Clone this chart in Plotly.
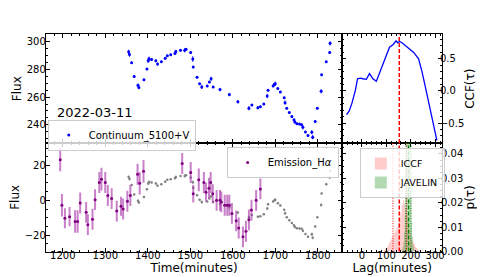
import plotly.graph_objects as go

# ---------------- data ----------------
cont_t = [1355, 1357, 1362, 1368, 1377, 1379, 1391, 1398, 1401, 1403, 1409, 1419, 1423, 1432,
          1441, 1446, 1454, 1464, 1466, 1477, 1487, 1490, 1501, 1506, 1507, 1516, 1522, 1527,
          1540, 1545, 1549, 1554, 1570, 1592, 1612, 1638, 1645, 1659, 1665, 1673, 1681, 1683,
          1695, 1698, 1700, 1706, 1712, 1721, 1723, 1727, 1733, 1739, 1744, 1746, 1751, 1757,
          1762, 1765, 1771, 1777, 1786, 1788, 1794, 1799, 1808, 1809, 1820, 1828, 1829]
cont_f = [292.5, 290.5, 284.7, 274.8, 268.5, 266.8, 272.4, 280.2, 286.0, 287.6, 287.0, 286.0,
          283.7, 285.4, 287.8, 289.7, 290.4, 291.3, 292.7, 293.6, 293.6, 294.3, 292.0, 287.3,
          281.6, 274.3, 269.6, 267.3, 268.0, 270.8, 273.1, 267.3, 265.4, 261.8, 256.7, 252.0,
          254.3, 252.4, 253.1, 255.0, 260.7, 264.9, 268.0, 269.2, 269.6, 266.1, 263.7, 259.5,
          256.0, 252.0, 248.9, 246.1, 243.7, 242.1, 240.9, 240.6, 240.2, 238.3, 235.0, 232.4,
          234.8, 231.2, 242.5, 252.0, 264.2, 276.0, 285.4, 292.0, 298.6]
cont_e = [1.5, 1.5, 0.8, 0.8, 1.2, 1.2, 0.8, 0.8, 1.5, 1.5, 0.8, 1.0, 1.0, 0.8, 1.0, 0.8, 0.8,
          0.8, 1.2, 0.8, 1.5, 0.8, 0.8, 2.0, 0.8, 0.8, 0.8, 1.5, 0.8, 0.8, 1.5, 0.8, 1.2, 1.2,
          1.2, 1.5, 0.8, 1.2, 0.8, 0.8, 1.5, 0.8, 0.8, 0.8, 1.5, 0.8, 0.8, 0.8, 1.5, 0.8, 0.8,
          0.8, 0.8, 1.2, 0.8, 0.8, 0.8, 1.5, 0.8, 0.8, 1.5, 1.5, 0.8, 0.8, 1.5, 0.8, 0.8, 0.8, 1.5]
# continuum rescaled onto the H-alpha flux scale (grey points)
cont_scaled = [13.4, 12.3, 8.9, 3.3, -0.3, -1.3, 1.9, 6.4, 9.7, 10.6, 10.3, 9.7, 8.4, 9.3,
               10.7, 11.8, 12.2, 12.7, 13.5, 14.0, 14.0, 14.4, 13.1, 10.4, 7.2, 3.0, 0.3, -1.0,
               -0.6, 1.0, 2.3, -1.0, -2.1, -4.1, -7.0, -9.7, -8.4, -9.5, -9.1, -8.0, -4.7, -2.3,
               -0.6, 0.1, 0.3, -1.7, -3.0, -5.4, -7.4, -9.7, -11.5, -13.1, -14.4, -15.3, -16.0,
               -16.2, -16.4, -17.5, -19.4, -20.9, -19.5, -21.5, -15.1, -9.7, -2.7, 4.0, 9.3,
               13.1, 16.9]
cont_scaled_e = [0.9, 0.9, 0.5, 0.5, 0.7, 0.7, 0.5, 0.5, 0.9, 0.9, 0.5, 0.6, 0.6, 0.5, 0.6,
                 0.5, 0.5, 0.5, 0.7, 0.5, 0.9, 0.5, 0.5, 1.1, 0.5, 0.5, 0.5, 0.9, 0.5, 0.5, 0.9,
                 0.5, 0.7, 0.7, 0.7, 0.9, 0.5, 0.7, 0.5, 0.5, 0.9, 0.5, 0.5, 0.5, 0.9, 0.5, 0.5,
                 0.5, 0.9, 0.5, 0.5, 0.5, 0.5, 0.7, 0.5, 0.5, 0.5, 0.9, 0.5, 0.5, 0.9, 0.9, 0.5,
                 0.5, 0.9, 0.5, 0.5, 0.5, 0.9]

ha_t = [1194, 1198, 1205, 1216, 1229, 1235, 1241, 1255, 1259, 1270, 1276, 1286, 1291, 1300,
        1306, 1315, 1327, 1337, 1342, 1352, 1359, 1376, 1381, 1390, 1481, 1501, 1507, 1520,
        1532, 1537, 1544, 1548, 1553, 1562, 1570, 1573, 1581, 1587, 1592, 1598, 1608, 1614,
        1624, 1631, 1638, 1644, 1655, 1665]
ha_f = [23.4, -2.8, -10.3, -9.4, -12.2, -12.2, -1.5, -6.9, -14.0, -10.9, 0.4, 10.3, 12.2, 10.3,
        2.8, 1.0, -6.2, -3.4, -5.0, -0.5, 2.8, 15.0, 9.8, 16.7, 21.2, 16.0, 3.8, 11.8, 10.3,
        4.7, 7.0, 10.3, 3.8, 0.0, 0.0, -0.9, -2.8, -2.8, -2.8, -7.5, -11.8, -15.9, -21.0,
        -17.8, -11.2, -5.6, 0.0, 6.6]
ha_e = [6.7, 6.5, 5.8, 5.5, 6.5, 6.5, 6.0, 6.0, 6.0, 6.0, 6.0, 6.0, 6.5, 6.0, 6.0, 6.0, 6.0,
        5.5, 6.0, 6.0, 6.0, 6.0, 6.5, 6.5, 6.0, 6.0, 5.0, 6.5, 6.0, 5.5, 6.0, 6.0, 5.5, 6.0,
        6.0, 6.0, 6.0, 6.0, 6.0, 6.0, 6.0, 6.0, 6.0, 6.0, 6.0, 6.0, 6.0, 6.0]

ccf_lag = [-63, -61, -52, -41, -27, -18, -7, 4, 18, 31, 45, 59, 75, 95, 113, 127, 136, 140, 146,
           154, 164, 177, 191, 212, 232, 246, 264, 280, 294, 307]
ccf_val = [-0.37, -0.355, -0.31, -0.19, 0.01, 0.19, 0.20, 0.19, 0.18, 0.27, 0.19, 0.15, 0.30,
           0.50, 0.68, 0.72, 0.77, 0.78, 0.75, 0.77, 0.75, 0.71, 0.67, 0.60, 0.50, 0.30, -0.01,
           -0.29, -0.55, -0.77]

iccf_bins = [90, 95, 100, 105, 110, 115, 120, 125, 130, 135, 140, 145, 150, 155, 160, 165, 170,
             175, 180, 185, 190, 195, 200, 205, 210, 215, 220, 225, 230, 235, 240, 245, 250]
iccf_p = [0.0005, 0.001, 0.0015, 0.002, 0.003, 0.004, 0.005, 0.006, 0.007, 0.008, 0.009, 0.010,
          0.012, 0.014, 0.016, 0.019, 0.021, 0.020, 0.018, 0.015, 0.012, 0.009, 0.007, 0.005,
          0.004, 0.003, 0.002, 0.0015, 0.001, 0.0007, 0.0005, 0.0003, 0.0002]
jav_bins = [165, 168, 171, 174, 177, 180, 183, 186, 189, 192, 195, 198, 201, 204, 207, 210, 213, 216]
jav_p = [0.001, 0.002, 0.004, 0.008, 0.015, 0.035, 0.06, 0.08, 0.09, 0.085, 0.07, 0.05, 0.03,
         0.012, 0.006, 0.003, 0.002, 0.001]

iccf_med, iccf_lo, iccf_hi = 153, 127, 183
jav_med, jav_lo, jav_hi = 191, 180, 201

time_ticks = [1200, 1300, 1400, 1500, 1600, 1700, 1800]
lag_ticks = [0, 100, 200, 300]

# ---------------- figure ----------------
FONT = "DejaVu Sans"
fig = go.Figure()

fig.add_trace(go.Scatter(x=cont_t, y=cont_f, mode="markers", name="Continuum_5100+V",
                         marker=dict(color="blue", size=3),
                         error_y=dict(type="data", array=cont_e, color="blue", thickness=1, width=0),
                         xaxis="x", yaxis="y", legend="legend"))

fig.add_trace(go.Scatter(x=cont_t, y=cont_scaled, mode="markers", showlegend=False,
                         marker=dict(color="gray", size=2.5),
                         error_y=dict(type="data", array=cont_scaled_e, color="rgba(128,128,128,0.7)",
                                      thickness=1, width=0),
                         xaxis="x3", yaxis="y3"))
fig.add_trace(go.Scatter(x=ha_t, y=ha_f, mode="markers", name="Emission_H<i>α</i>",
                         marker=dict(color="#800080", size=3),
                         error_y=dict(type="data", array=ha_e, color="rgba(170,60,170,0.65)",
                                      thickness=2, width=0),
                         xaxis="x3", yaxis="y3", legend="legend2"))

fig.add_trace(go.Scatter(x=ccf_lag, y=ccf_val, mode="lines", showlegend=False,
                         line=dict(color="blue", width=1.3), xaxis="x2", yaxis="y2"))

fig.add_trace(go.Bar(x=iccf_bins, y=iccf_p, width=5, name="ICCF",
                     marker=dict(color="rgba(255,0,0,0.2)", line=dict(width=0)),
                     xaxis="x4", yaxis="y4", legend="legend3"))
fig.add_trace(go.Bar(x=jav_bins, y=jav_p, width=3, name="JAVELIN",
                     marker=dict(color="rgba(0,128,0,0.3)", line=dict(width=0)),
                     xaxis="x4", yaxis="y4", legend="legend3"))

xL = [38 / 485, 336.5 / 485]
xR = [336.5 / 485, 436.7 / 485]
yT = [1 - 138 / 277, 1 - 27 / 277]
yB = [1 - 249 / 277, 1 - 138 / 277]

tickfont = dict(family=FONT, size=10, color="black")
titlefont = dict(family=FONT, size=12, color="black")


def mn(dtick, tick0):
    return dict(ticks="inside", ticklen=2, tickwidth=1, tickcolor="black", dtick=dtick, tick0=tick0)


def ax(**kw):
    base = dict(showline=True, linecolor="black", linewidth=1, mirror="allticks",
                ticks="inside", ticklen=4, tickwidth=1, tickcolor="black",
                showgrid=False, zeroline=False, tickfont=tickfont)
    base.update(kw)
    return base


fig.update_layout(
    width=485, height=277, margin=dict(l=0, r=0, t=0, b=0),
    plot_bgcolor="white", paper_bgcolor="white",
    barmode="overlay",
    font=dict(family=FONT, color="black"),
    xaxis=ax(domain=xL, range=[1160, 1858], tickvals=time_ticks, showticklabels=False,
             anchor="y", minor=mn(20, 1200)),
    yaxis=ax(domain=yT, range=[227, 305], dtick=20, tick0=240, anchor="x", ticklabelstandoff=-3,
             title=dict(text="Flux", font=titlefont, standoff=2), minor=mn(5, 240)),
    xaxis2=ax(domain=xR, range=[-80, 328], tickvals=lag_ticks, showticklabels=False, anchor="y2",
              minor=mn(20, 0)),
    yaxis2=ax(domain=yT, range=[-0.81, 0.88], tickvals=[-0.5, 0.0, 0.5], ticktext=["−0.5", "0.0", "0.5"],
              side="right", anchor="x2", ticklabelstandoff=-5,
              title=dict(text="CCF(τ)", font=titlefont, standoff=2), minor=mn(0.1, 0)),
    xaxis3=ax(domain=xL, range=[1160, 1858], tickvals=time_ticks, anchor="y3", ticklabelstandoff=-6,
              title=dict(text="Time(minutes)", font=titlefont, standoff=0), minor=mn(20, 1200)),
    yaxis3=ax(domain=yB, range=[-29.5, 33], tickvals=[-20, 0, 20], ticktext=["−20", "0", "20"], anchor="x3",
              ticklabelstandoff=-3,
              title=dict(text="Flux", font=titlefont, standoff=2), minor=mn(5, 0)),
    xaxis4=ax(domain=xR, range=[-80, 328], tickvals=lag_ticks, anchor="y4", ticklabelstandoff=-6,
              title=dict(text="Lag(minutes)", font=titlefont, standoff=0), minor=mn(20, 0)),
    yaxis4=ax(domain=yB, range=[0, 0.0445], tickvals=[0, 0.01, 0.02, 0.03, 0.04],
              ticktext=["0.00", "0.01", "0.02", "0.03", "0.04"], side="right", anchor="x4",
              ticklabelstandoff=-4,
              title=dict(text="p(τ)", font=titlefont, standoff=2), minor=mn(0.0025, 0)),
    legend=dict(x=40 / 485, y=1 - 114 / 277, xanchor="left", yanchor="top",
                bgcolor="rgba(255,255,255,0.8)", bordercolor="#cccccc", borderwidth=1,
                font=dict(family=FONT, size=10, color="black"), itemwidth=30),
    legend2=dict(x=220 / 485, y=1 - 142 / 277, xanchor="left", yanchor="top",
                 bgcolor="rgba(255,255,255,0.8)", bordercolor="#cccccc", borderwidth=1,
                 font=dict(family=FONT, size=10, color="black"), itemwidth=30),
    legend3=dict(x=354 / 485, y=1 - 143 / 277, xanchor="left", yanchor="top",
                 bgcolor="rgba(255,255,255,0.8)", bordercolor="#cccccc", borderwidth=1,
                 font=dict(family=FONT, size=9.5, color="black"), itemwidth=30, tracegroupgap=0),
    annotations=[dict(text="2022-03-11", x=47 / 485, y=1 - 107 / 277, xref="paper", yref="paper",
                      xanchor="left", yanchor="middle", showarrow=False,
                      font=dict(family=FONT, size=13, color="black"))],
)

shapes = [
    dict(type="line", xref="x2", yref="y2 domain", x0=iccf_med, x1=iccf_med, y0=0, y1=1,
         line=dict(color="#ff0000", width=1.5, dash="4px,2px")),
    dict(type="line", xref="x4", yref="y4 domain", x0=iccf_med, x1=iccf_med, y0=0, y1=1,
         line=dict(color="#ff0000", width=1.5, dash="4px,2px")),
    dict(type="line", xref="x4", yref="y4 domain", x0=iccf_lo, x1=iccf_lo, y0=0, y1=1,
         line=dict(color="#ff0000", width=1, dash="1px,1.5px")),
    dict(type="line", xref="x4", yref="y4 domain", x0=iccf_hi, x1=iccf_hi, y0=0, y1=1,
         line=dict(color="#ff0000", width=1, dash="1px,1.5px")),
    dict(type="line", xref="x4", yref="y4 domain", x0=jav_med, x1=jav_med, y0=0, y1=1,
         line=dict(color="green", width=1.3, dash="4px,2px")),
    dict(type="line", xref="x4", yref="y4 domain", x0=jav_lo, x1=jav_lo, y0=0, y1=1,
         line=dict(color="green", width=1, dash="1px,1.5px")),
    dict(type="line", xref="x4", yref="y4 domain", x0=jav_hi, x1=jav_hi, y0=0, y1=1,
         line=dict(color="green", width=1, dash="1px,1.5px")),
]
fig.update_layout(shapes=shapes)

fig.write_html("out.html")
